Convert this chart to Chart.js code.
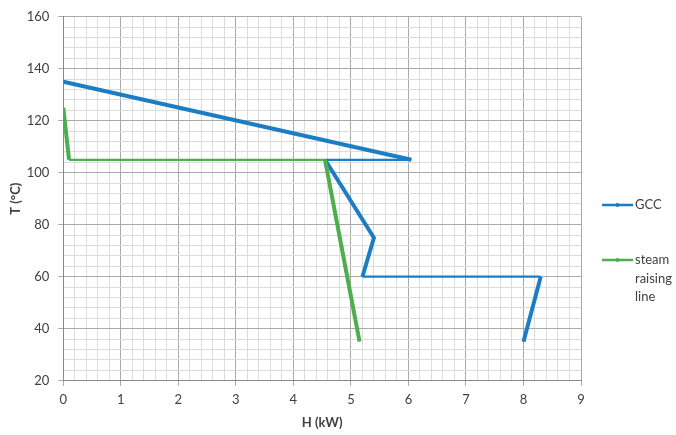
<!DOCTYPE html>
<html>
<head>
<meta charset="utf-8">
<script src="https://cdn.jsdelivr.net/npm/chart.js@4/dist/chart.umd.min.js"></script>
<style>
  html, body { margin: 0; padding: 0; background: #fff; }
  #wrap { width: 676px; height: 435px; }
</style>
</head>
<body>
<div id="wrap"><canvas id="c" width="676" height="435"></canvas></div>
<script>
// ---- data ----
const gccH = [0, 6.05, 4.55, 5.4, 5.2, 8.3, 8.0];
const gccT = [135, 105, 105, 75, 60, 60, 35];
const steamH = [0, 0.1, 4.55, 5.15];
const steamT = [125, 105, 105, 35];
const seriesNames = ['GCC', 'steam raising line'];
const legendLines = [['GCC'], ['steam', 'raising', 'line']];
const xTitle = 'H (kW)';
const yTitle = 'T (°C)';

const blue = '#1b7dc3';
const green = '#4cae4f';
const majorGrid = '#a9a9a9';
const minorGrid = '#dcdcdc';
const textColor = '#404040';
const FONT = 'Lato, "Open Sans", "Liberation Sans", sans-serif';

const toPts = (xs, ys) => xs.map((x, i) => ({ x: x, y: ys[i] }));
const isInt = (v, step) => Math.abs(v / step - Math.round(v / step)) < 1e-6;

const segWidth = ctx => (ctx.p0.parsed.y === ctx.p1.parsed.y ? 2.25 : 4);

const legendPlugin = {
  id: 'customLegend',
  afterDraw(chart) {
    const ctx = chart.ctx;
    const items = [
      { color: blue, y: 205, lines: legendLines[0] },
      { color: green, y: 260, lines: legendLines[1] }
    ];
    ctx.save();
    items.forEach(it => {
      ctx.strokeStyle = it.color;
      ctx.lineWidth = 2.5;
      ctx.beginPath();
      ctx.moveTo(602, it.y);
      ctx.lineTo(633, it.y);
      ctx.stroke();
      ctx.fillStyle = it.color;
      ctx.beginPath();
      ctx.arc(617.5, it.y, 2, 0, Math.PI * 2);
      ctx.fill();
      ctx.fillStyle = textColor;
      ctx.font = '13px ' + FONT;
      ctx.textBaseline = 'middle';
      ctx.textAlign = 'left';
      it.lines.forEach((t, i) => ctx.fillText(t, 635, it.y + i * 18.5));
    });
    ctx.restore();
  }
};

new Chart(document.getElementById('c'), {
  type: 'scatter',
  data: {
    datasets: [
      {
        label: seriesNames[0],
        data: toPts(gccH, gccT),
        showLine: true,
        borderColor: blue,
        backgroundColor: blue,
        borderWidth: 4,
        pointRadius: 0,
        order: 1,
        segment: { borderWidth: segWidth }
      },
      {
        label: seriesNames[1],
        data: toPts(steamH, steamT),
        showLine: true,
        borderColor: green,
        backgroundColor: green,
        borderWidth: 4,
        pointRadius: 0,
        order: 0,
        segment: { borderWidth: segWidth }
      }
    ]
  },
  options: {
    responsive: false,
    animation: false,
    devicePixelRatio: 1,
    layout: { padding: { left: 0, top: 14, right: 95, bottom: 0 } },
    plugins: { legend: { display: false }, tooltip: { enabled: false } },
    scales: {
      x: {
        type: 'linear',
        min: 0, max: 9,
        afterFit: s => { s.height = 54.3; },
        ticks: {
          stepSize: 0.2,
          autoSkip: false,
          maxRotation: 0,
          padding: 6,
          color: textColor,
          font: { family: FONT, size: 13 },
          callback: v => (isInt(v, 1) ? String(Math.round(v)) : '')
        },
        grid: {
          color: c => (isInt(c.tick.value, 1) ? majorGrid : minorGrid),
          tickColor: c => (isInt(c.tick.value, 1) ? majorGrid : 'rgba(0,0,0,0)'),
          tickLength: 5,
          lineWidth: 1
        },
        border: { color: '#8a8a8a', width: 1 },
        title: {
          display: true,
          text: xTitle,
          color: textColor,
          font: { family: FONT, size: 13, weight: 'bold' },
          padding: { top: 0, bottom: 4.5 }
        }
      },
      y: {
        type: 'linear',
        min: 20, max: 160,
        afterFit: s => { s.width = 63.3; },
        ticks: {
          stepSize: 4,
          autoSkip: false,
          padding: 9,
          color: textColor,
          font: { family: FONT, size: 13 },
          callback: v => (isInt(v, 20) ? String(Math.round(v)) : '')
        },
        grid: {
          color: c => (isInt(c.tick.value, 20) ? majorGrid : minorGrid),
          tickColor: c => (isInt(c.tick.value, 20) ? majorGrid : 'rgba(0,0,0,0)'),
          tickLength: 5,
          lineWidth: 1
        },
        border: { color: '#8a8a8a', width: 1 },
        title: {
          display: true,
          text: yTitle,
          color: textColor,
          font: { family: FONT, size: 13, weight: 'bold' },
          padding: { top: 8, bottom: 0 }
        }
      }
    }
  },
  plugins: [legendPlugin]
});
</script>
</body>
</html>
